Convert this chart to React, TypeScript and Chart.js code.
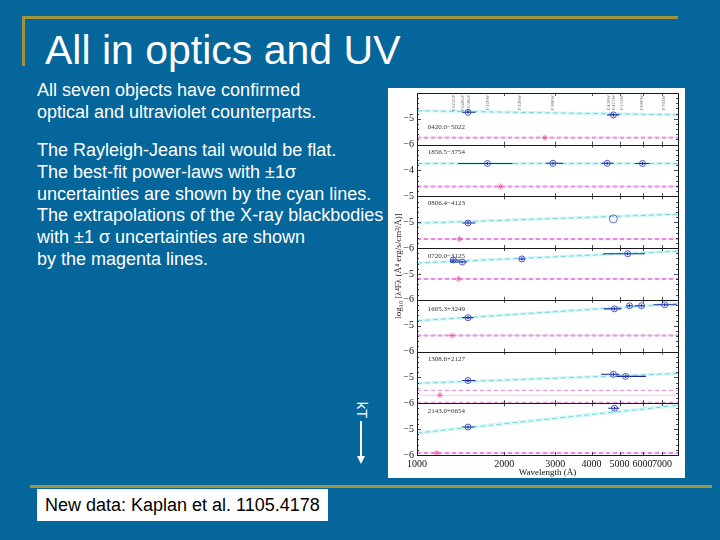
import React, { useEffect, useRef } from "react";
import { Chart, registerables } from "chart.js";

Chart.register(...registerables);

const SERIF = "'Liberation Serif', 'DejaVu Serif', serif";
const SANS = "'Liberation Sans', Arial, sans-serif";

// ---------- data ----------
const panelNames = [
  "0420.0−5022",
  "1856.5−3754",
  "0806.4−4123",
  "0720.0−3125",
  "1605.3+3249",
  "1308.6+2127",
  "2143.0+0654",
];
const yMins = [-6, -5, -6, -6, -6, -6, -6];
const yMaxs = [-4, -3, -4, -4, -4, -4, -4];
const xTicks = [1000, 2000, 3000, 4000, 5000, 6000, 7000];
const xMin = 1000;
const xMax = 7950;

// power-law fits (cyan): value at xMin and at xMax, and 1 sigma half-width
const cyanStart = [-4.69, -3.73, -5.04, -4.58, -4.81, -5.23, -5.15];
const cyanEnd = [-4.85, -3.73, -4.69, -4.12, -4.15, -4.85, -4.08];
const cyanSigma = [0.04, 0.03, 0.04, 0.04, 0.04, 0.04, 0.05];

// blackbody extrapolations (magenta)
const bbLevel = [-5.73, -4.62, -5.65, -5.19, -5.38, -5.69, -5.92];
const bbUpper = [-5.71, -4.6, -5.63, -5.17, -5.36, -5.5, -5.9];
const bbLower = [-5.75, -4.64, -5.67, -5.21, -5.4, -5.96, -5.94];
const bbMarkX = [2760, 1940, 1400, 1390, 1320, 1200, 1170];

// photometry (blue)
const obsX = [
  [1500, 4760],
  [1750, 2945, 4530, 6000],
  [1500],
  [1334, 1433, 2300, 5330],
  [1500, 4800, 5410, 5950, 7150],
  [1500, 4760, 5240],
  [1500, 4800],
];
const obsY = [
  [-4.75, -4.85],
  [-3.73, -3.72, -3.72, -3.73],
  [-5.03],
  [-4.46, -4.54, -4.42, -4.22],
  [-4.69, -4.35, -4.23, -4.23, -4.19],
  [-5.12, -4.88, -4.96],
  [-4.92, -4.19],
];
const obsLo = [
  [1430, 4530],
  [1388, 2785, 4320, 5660],
  [1433],
  [1300, 1300, 2250, 4390],
  [1433, 4420, 5300, 5630, 6540],
  [1433, 4320, 4870],
  [1433, 4570],
];
const obsHi = [
  [1590, 4990],
  [2136, 3190, 4760, 6340],
  [1590],
  [1400, 1490, 2360, 6110],
  [1565, 5070, 5550, 6110, 7870],
  [1590, 4990, 6170],
  [1577, 4990],
];
const obsErr = 0.06;

// open circle (no error bar)
const openPanel = [2];
const openX = [4760];
const openY = [-4.87];

// text inside panels
const labelX = 1090;
const labelY = [-5.31, -3.28, -4.27, -4.33, -4.35, -4.3, -4.3];
const filterNames = ["F125LP", "F140LP", "F150LP", "F170W", "F220W", "F300W", "F450W", "F475W", "F555W", "F606W", "F702W"];
const filterX = [1334, 1433, 1503, 1750, 2260, 2940, 4570, 4760, 5070, 5950, 7100];

const yTitle = "log₁₀ [λ⁴Fλ (Å⁴ erg/s/cm²/Å)]";
const xTitle = "Wavelength (Å)";

// ---------- chart ----------
function buildDatasets() {
  const ds: any[] = [];
  for (let i = 0; i < panelNames.length; i++) {
    const yAxisID = "y" + i;
    // cyan band
    ds.push({
      data: [
        { x: xMin, y: cyanStart[i] + cyanSigma[i] },
        { x: xMax, y: cyanEnd[i] + cyanSigma[i] },
      ],
      showLine: true,
      borderColor: "rgba(165,236,240,0.7)",
      borderWidth: 0.7,
      pointRadius: 0,
      fill: "+1",
      backgroundColor: "rgba(200,245,247,0.35)",
      yAxisID,
      order: 5,
    });
    ds.push({
      data: [
        { x: xMin, y: cyanStart[i] - cyanSigma[i] },
        { x: xMax, y: cyanEnd[i] - cyanSigma[i] },
      ],
      showLine: true,
      borderColor: "rgba(165,236,240,0.7)",
      borderWidth: 0.7,
      pointRadius: 0,
      fill: false,
      yAxisID,
      order: 5,
    });
    ds.push({
      data: [
        { x: xMin, y: cyanStart[i] },
        { x: xMax, y: cyanEnd[i] },
      ],
      showLine: true,
      borderColor: "#6ad6dd",
      borderWidth: 1,
      borderDash: [5, 3],
      pointRadius: 0,
      fill: false,
      yAxisID,
      order: 4,
    });
    // magenta
    ds.push({
      data: [
        { x: xMin, y: bbLevel[i] },
        { x: xMax, y: bbLevel[i] },
      ],
      showLine: true,
      borderColor: "rgba(230,140,225,0.6)",
      borderWidth: 0.8,
      pointRadius: 0,
      fill: false,
      yAxisID,
      order: 3,
    });
    for (const v of [bbUpper[i], bbLower[i]]) {
      ds.push({
        data: [
          { x: xMin, y: v },
          { x: xMax, y: v },
        ],
        showLine: true,
        borderColor: "#e680da",
        borderWidth: 1,
        borderDash: [4, 3],
        pointRadius: 0,
        fill: false,
        yAxisID,
        order: 3,
      });
    }
    ds.push({
      data: [{ x: bbMarkX[i], y: bbLevel[i] }],
      showLine: false,
      pointStyle: "star",
      pointRadius: 3,
      borderColor: "#e0609a",
      borderWidth: 0.8,
      backgroundColor: "rgba(0,0,0,0)",
      yAxisID,
      order: 2,
    });
    // error bars
    const seg: any[] = [];
    for (let k = 0; k < obsX[i].length; k++) {
      seg.push({ x: obsLo[i][k], y: obsY[i][k] });
      seg.push({ x: obsHi[i][k], y: obsY[i][k] });
      seg.push({ x: obsHi[i][k], y: null });
      seg.push({ x: obsX[i][k], y: obsY[i][k] - obsErr });
      seg.push({ x: obsX[i][k], y: obsY[i][k] + obsErr });
      seg.push({ x: obsX[i][k], y: null });
    }
    ds.push({
      data: seg,
      showLine: true,
      spanGaps: false,
      borderColor: "#1b2a96",
      borderWidth: 1.1,
      pointRadius: 0,
      fill: false,
      yAxisID,
      order: 1,
    });
    ds.push({
      data: obsX[i].map((x, k) => ({ x, y: obsY[i][k] })),
      showLine: false,
      pointStyle: "circle",
      pointRadius: 3,
      borderColor: "#3a44c8",
      borderWidth: 0.9,
      backgroundColor: "rgba(0,0,0,0)",
      yAxisID,
      order: 0,
    });
    const opens = openPanel
      .map((p, k) => (p === i ? { x: openX[k], y: openY[k] } : null))
      .filter(Boolean);
    if (opens.length) {
      ds.push({
        data: opens,
        showLine: false,
        pointStyle: "circle",
        pointRadius: 4,
        borderColor: "#4a5ad6",
        borderWidth: 0.9,
        backgroundColor: "rgba(0,0,0,0)",
        yAxisID,
        order: 0,
      });
    }
  }
  return ds;
}

function buildScales() {
  const scales: any = {
    x: {
      type: "logarithmic",
      min: xMin,
      max: xMax,
      position: "bottom",
      afterBuildTicks: (axis: any) => {
        axis.ticks = xTicks.map((v) => ({ value: v }));
      },
      afterFit: (axis: any) => {
        axis.height = 23;
        axis.paddingLeft = 0;
        axis.paddingRight = 0;
      },
      ticks: {
        callback: (v: any) => String(v),
        font: { family: SERIF, size: 10 },
        color: "#111",
        maxRotation: 0,
        autoSkip: false,
        padding: 3,
      },
      grid: { display: false, drawTicks: false, tickLength: 0 },
      border: { display: false },
      title: {
        display: true,
        text: xTitle,
        font: { family: SERIF, size: 9 },
        color: "#111",
        padding: { top: 0, bottom: 0 },
      },
    },
  };
  for (let i = 0; i < panelNames.length; i++) {
    const max = yMaxs[i];
    scales["y" + i] = {
      type: "linear",
      position: "left",
      stack: "panels",
      stackWeight: 1,
      weight: panelNames.length - i,
      offset: false,
      min: yMins[i],
      max: yMaxs[i],
      afterFit: (axis: any) => {
        axis.width = 16;
        axis.paddingTop = 0;
        axis.paddingBottom = 0;
      },
      ticks: {
        stepSize: 0.2,
        autoSkip: false,
        font: { family: SERIF, size: 10 },
        color: "#111",
        padding: 3,
        callback: (v: any) => {
          const r = Math.round(v);
          if (Math.abs(v - r) > 1e-6 || r === max) return "";
          return r < 0 ? "−" + Math.abs(r) : String(r);
        },
      },
      grid: { display: false, drawTicks: false, tickLength: 0 },
      border: { display: false },
    };
  }
  return scales;
}

const panelPlugin = {
  id: "panelDecor",
  afterDraw(chart: any) {
    const { ctx, chartArea: ca } = chart;
    const xs = chart.scales.x;
    ctx.save();
    ctx.strokeStyle = "#1a1a1a";
    ctx.lineWidth = 1;
    // panel separators
    for (let i = 0; i < panelNames.length; i++) {
      const s = chart.scales["y" + i];
      const yb = Math.round(s.bottom) + 0.5;
      ctx.beginPath();
      ctx.moveTo(ca.left, yb);
      ctx.lineTo(ca.right, yb);
      ctx.stroke();
    }
    ctx.strokeRect(Math.round(ca.left) + 0.5, Math.round(ca.top) + 0.5, Math.round(ca.width), Math.round(ca.height));
    // ticks
    ctx.lineWidth = 0.8;
    for (let i = 0; i < panelNames.length; i++) {
      const s = chart.scales["y" + i];
      for (const v of xTicks) {
        if (v === xMin) continue;
        const px = Math.round(xs.getPixelForValue(v)) + 0.5;
        ctx.beginPath();
        ctx.moveTo(px, s.top);
        ctx.lineTo(px, s.top + 3);
        ctx.moveTo(px, s.bottom);
        ctx.lineTo(px, s.bottom - 3);
        ctx.stroke();
      }
      for (const t of s.ticks) {
        const py = Math.round(s.getPixelForValue(t.value)) + 0.5;
        const major = Math.abs(t.value - Math.round(t.value)) < 1e-6;
        const len = major ? 4 : 2;
        ctx.beginPath();
        ctx.moveTo(ca.left, py);
        ctx.lineTo(ca.left + len, py);
        ctx.moveTo(ca.right, py);
        ctx.lineTo(ca.right - len, py);
        ctx.stroke();
      }
      // name
      ctx.fillStyle = "#333";
      ctx.font = `7px ${SERIF}`;
      ctx.textBaseline = "middle";
      ctx.textAlign = "left";
      ctx.fillText(panelNames[i], xs.getPixelForValue(labelX), s.getPixelForValue(labelY[i]));
    }
    // filter names on top panel
    const s0 = chart.scales.y0;
    ctx.fillStyle = "#666";
    ctx.font = `5px ${SERIF}`;
    for (let k = 0; k < filterNames.length; k++) {
      ctx.save();
      ctx.translate(xs.getPixelForValue(filterX[k]), s0.top + 2);
      ctx.rotate(-Math.PI / 2);
      ctx.textAlign = "right";
      ctx.textBaseline = "middle";
      ctx.fillText(filterNames[k], 0, 0);
      ctx.restore();
    }
    // y title
    ctx.save();
    ctx.fillStyle = "#222";
    ctx.font = `9px ${SERIF}`;
    ctx.translate(ca.left - 18, (ca.top + ca.bottom) / 2 - 8);
    ctx.rotate(-Math.PI / 2);
    ctx.textAlign = "center";
    ctx.textBaseline = "middle";
    ctx.fillText(yTitle, 0, 0);
    ctx.restore();
    ctx.restore();
  },
};

function SpectraChart() {
  const ref = useRef<HTMLCanvasElement | null>(null);
  useEffect(() => {
    if (!ref.current) return;
    const chart = new Chart(ref.current, {
      type: "scatter",
      data: { datasets: buildDatasets() },
      options: {
        responsive: false,
        animation: false,
        devicePixelRatio: 1,
        layout: { padding: { left: 13, right: 7, top: 3, bottom: 0 } },
        plugins: { legend: { display: false }, tooltip: { enabled: false } },
        elements: { line: { tension: 0 } },
        scales: buildScales(),
      } as any,
      plugins: [panelPlugin],
    });
    return () => chart.destroy();
  }, []);
  return <canvas ref={ref} width={297} height={390} style={{ display: "block" }} />;
}

const para1 = ["All seven objects have confirmed", "optical and ultraviolet counterparts."];
const para2 = [
  "The Rayleigh-Jeans tail would be flat.",
  "The best-fit power-laws with ±1σ",
  "uncertainties are shown by the cyan lines.",
  "The extrapolations of the X-ray blackbodies",
  "with ±1 σ uncertainties are shown",
  "by the magenta lines.",
];

export default function App() {
  const gold = "#a0923f";
  const abs = (o: any) => ({ position: "absolute", ...o } as React.CSSProperties);
  return (
    <div style={abs({ left: 0, top: 0, width: 720, height: 540, background: "#04669a", overflow: "hidden", fontFamily: SANS, position: "fixed" })}>
      <div style={abs({ left: 22, top: 16, width: 656, height: 3, background: gold })} />
      <div style={abs({ left: 22, top: 16, width: 3, height: 50, background: gold })} />
      <div style={abs({ left: 45, top: 30, fontSize: 41, lineHeight: "41px", color: "#fff", whiteSpace: "nowrap" })}>
        All in optics and UV
      </div>
      <div style={abs({ left: 37, top: 80, fontSize: 18, lineHeight: "21.8px", color: "#fff", whiteSpace: "nowrap" })}>
        {para1.map((t) => (
          <div key={t}>{t}</div>
        ))}
      </div>
      <div style={abs({ left: 37, top: 140, fontSize: 18, lineHeight: "21.8px", color: "#fff", whiteSpace: "nowrap" })}>
        {para2.map((t) => (
          <div key={t}>{t}</div>
        ))}
      </div>
      <div style={abs({ left: 388, top: 88, width: 297, height: 390, background: "#fff" })}>
        <SpectraChart />
      </div>
      <div style={abs({ left: 348, top: 402, width: 28, height: 16, color: "#fff", fontSize: 15, lineHeight: "16px", textAlign: "center", transform: "rotate(90deg)" })}>
        kT
      </div>
      <div style={abs({ left: 360, top: 421, width: 2, height: 36, background: "#fff" })} />
      <div style={abs({ left: 357, top: 456, width: 0, height: 0, borderLeft: "4px solid transparent", borderRight: "4px solid transparent", borderTop: "8px solid #fff" })} />
      <div style={abs({ left: 30, top: 485, width: 682, height: 3, background: gold })} />
      <div style={abs({ left: 37, top: 489, width: 291, height: 32, background: "#fff", color: "#000", fontSize: 18, lineHeight: "32px", paddingLeft: 8, boxSizing: "border-box", whiteSpace: "nowrap" })}>
        New data: Kaplan et al. 1105.4178
      </div>
    </div>
  );
}
